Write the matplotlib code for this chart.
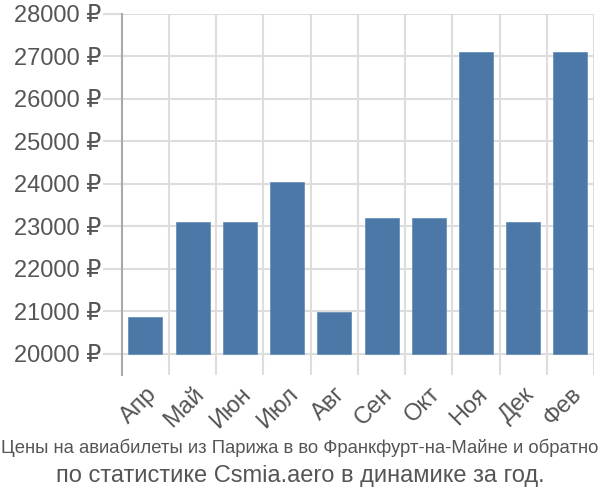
import matplotlib
matplotlib.use("Agg")
import matplotlib.pyplot as plt
from matplotlib.ticker import FuncFormatter
import numpy as np

months = ["Апр", "Май", "Июн", "Июл", "Авг", "Сен", "Окт", "Ноя", "Дек", "Фев"]
prices = [20855, 23110, 23110, 24040, 20990, 23200, 23200, 27100, 23110, 27100]
yticks = [20000, 21000, 22000, 23000, 24000, 25000, 26000, 27000, 28000]
base = 20000
caption1 = "Цены на авиабилеты из Парижа в во Франкфурт-на-Майне и обратно"
caption2 = "по статистике Csmia.aero в динамике за год."

plt.rcParams['font.family'] = ['Liberation Sans', 'DejaVu Sans']
text_col = '#555555'
grid_col = '#dddddd'

fig = plt.figure(figsize=(6, 5), dpi=100)
ax = fig.add_axes([0.203, 0.25, 0.787, 0.722])

x = np.arange(len(months))
heights = [p - base for p in prices]
ax.bar(x, heights, bottom=base, width=0.72, color='#4c78a8', edgecolor='#6a8fba',
       linewidth=0.6, zorder=3)

ax.set_xlim(-0.5, len(months) - 0.5)
ax.set_ylim(19500, 28000)
ax.set_yticks(yticks)
ax.yaxis.set_major_formatter(FuncFormatter(lambda v, p: f"{int(v)} ₽"))
ax.set_xticks(x)
ax.set_xticklabels(months, rotation=45, ha='right', rotation_mode='anchor')
ax.set_xticks(np.arange(-0.5, len(months)), minor=True)

for s in ['top', 'right', 'bottom']:
    ax.spines[s].set_visible(False)
ax.spines['left'].set_color('#aaaaaa')
ax.spines['left'].set_linewidth(1.5)

ax.grid(axis='y', color=grid_col, linewidth=1.5, zorder=0)
ax.grid(axis='x', which='minor', color=grid_col, linewidth=1.5, zorder=0)
ax.tick_params(axis='y', length=14, width=1.5, color=grid_col, labelsize=17, labelcolor=text_col, pad=1)
ax.tick_params(axis='x', which='major', length=0, labelsize=17, labelcolor=text_col, pad=6)
ax.tick_params(axis='x', which='minor', length=0)

fig.text(0.5, 0.105, caption1, ha='center', va='center', fontsize=13.3, color=text_col)
fig.text(0.5, 0.048, caption2, ha='center', va='center', fontsize=17, color=text_col)

fig.savefig("out.png", dpi=100)
